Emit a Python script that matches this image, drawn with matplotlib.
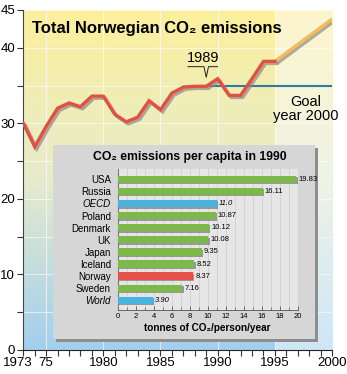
import numpy as np
import matplotlib
matplotlib.use("Agg")
import matplotlib.pyplot as plt
import matplotlib.patheffects as pe
import matplotlib.transforms as mtransforms
from matplotlib.patches import Rectangle
from matplotlib.ticker import MultipleLocator, FixedLocator

# total emissions (million tonnes CO2)
years = [1973, 1974, 1975, 1976, 1977, 1978, 1979, 1980, 1981, 1982, 1983,
         1984, 1985, 1986, 1987, 1988, 1989, 1990, 1991, 1992, 1993, 1994, 1995]
emissions = [30.0, 26.9, 29.6, 32.0, 32.7, 32.2, 33.6, 33.6, 31.2, 30.2, 30.8,
             33.0, 31.8, 34.0, 34.8, 34.9, 34.9, 35.9, 33.7, 33.7, 35.9, 38.2, 38.2]
proj_years = [1995, 2000]
proj_values = [38.2, 43.8]
goal = 35.0
goal_start = 1989

# inset: per capita emissions 1990
countries = ["USA", "Russia", "OECD", "Poland", "Denmark", "UK", "Japan",
             "Iceland", "Norway", "Sweden", "World"]
per_capita = [19.83, 16.11, 11.0, 10.87, 10.12, 10.08, 9.35, 8.52, 8.37, 7.16, 3.90]
per_capita_txt = ["19.83", "16.11", "11.0", "10.87", "10.12", "10.08", "9.35",
                  "8.52", "8.37", "7.16", "3.90"]
italic_rows = ["OECD", "World"]

plt.rcParams["font.family"] = ["Liberation Sans", "DejaVu Sans"]

fig = plt.figure(figsize=(3.47, 3.74), dpi=100)
W, H = 347.0, 374.0
ax = fig.add_axes([23.3 / W, 24 / H, 308.7 / W, 340 / H])
ax.set_xlim(years[0], proj_years[-1])
ax.set_ylim(0, 45)

# background gradients (yellow top -> blue bottom)
def gradient(top, mid, bot, n=200):
    t = np.linspace(0, 1, n)[:, None]
    top, mid, bot = [np.array(matplotlib.colors.to_rgb(c)) for c in (top, mid, bot)]
    g = np.where(t < 0.5, top + (mid - top) * (t / 0.5), mid + (bot - mid) * ((t - 0.5) / 0.5))
    return g[:, None, :]

ax.imshow(gradient("#fcf09c", "#e6ebcc", "#a2cfef"), extent=(years[0], years[-1], 0, 45),
          aspect="auto", zorder=0, interpolation="bilinear")
ax.imshow(gradient("#fdf6cc", "#eef3e6", "#cfe6f7"), extent=(proj_years[0], proj_years[-1], 0, 45),
          aspect="auto", zorder=0, interpolation="bilinear")

ax.xaxis.set_major_locator(FixedLocator([1973, 1975, 1980, 1985, 1990, 1995, 2000]))
ax.xaxis.set_minor_locator(MultipleLocator(1))
ax.set_xticklabels(["1973", "75", "1980", "1985", "1990", "1995", "2000"])
ax.yaxis.set_major_locator(FixedLocator([0, 10, 20, 30, 40, 45]))
ax.yaxis.set_minor_locator(MultipleLocator(5))
ax.tick_params(axis="both", which="both", direction="out", length=4, width=0.8, color="#333333")
ax.tick_params(axis="x", which="major", pad=1)
ax.tick_params(axis="y", which="major", pad=2)
for lab in ax.get_xticklabels() + ax.get_yticklabels():
    lab.set_fontsize(9.5)
# nudge the first year label left like the original
first = ax.get_xticklabels()[0]
first.set_transform(first.get_transform() + mtransforms.ScaledTranslation(-6 / 100, 0, fig.dpi_scale_trans))
for s in ["top", "right"]:
    ax.spines[s].set_visible(False)
ax.spines["left"].set_color("#444444")
ax.spines["bottom"].set_color("#222222")

ax.grid(True, which="minor", axis="y", color="white", lw=0.8, alpha=0.6, zorder=1)
ax.grid(True, which="major", axis="y", color="white", lw=0.8, alpha=0.6, zorder=1)
ax.grid(True, which="major", axis="x", color="white", lw=0.8, alpha=0.6, zorder=1)

# goal line
ax.hlines(goal, goal_start, proj_years[-1], color="#2b7ea1", lw=1.5, zorder=2)

shadow = [pe.SimpleLineShadow(offset=(1.5, -1.5), shadow_color="#8a8a8a", alpha=0.7), pe.Normal()]
ax.plot(proj_years, proj_values, color="#f6b960", lw=2.4, zorder=3, path_effects=shadow,
        solid_capstyle="butt")
ax.plot(years, emissions, color="#e4503f", lw=2.4, zorder=4, path_effects=shadow,
        solid_joinstyle="miter")

# 1989 marker
v89 = emissions[years.index(1989)]
ax.plot([1987.4, 1988.8, 1989.0, 1989.2, 1990.0],
        [v89 + 2.6, v89 + 2.6, v89 + 1.2, v89 + 2.6, v89 + 2.6], color="#222222", lw=0.7, zorder=5)
ax.text(1988.7, v89 + 2.8, "1989", fontsize=10.5, ha="center", va="bottom", zorder=5)

ax.text(1997.7, 33.7, "Goal\nyear 2000", fontsize=10.5, ha="center", va="top",
        linespacing=1.0, zorder=5)

ax.text(years[0] + 0.75, 42.6, "Total Norwegian CO\u2082 emissions", fontsize=12,
        fontweight="bold", ha="left", va="center", zorder=5)

# inset box with shadow
fig.patches.append(Rectangle((56 / W, 1 - 342 / H), 262 / W, 194 / H, transform=fig.transFigure,
                             facecolor="#8e8e8e", edgecolor="none", zorder=1))
fig.patches.append(Rectangle((53 / W, 1 - 339 / H), 262 / W, 194 / H, transform=fig.transFigure,
                             facecolor="#d6d6d6", edgecolor="none", zorder=1))
fig.text(190 / W, 1 - 157 / H, "CO\u2082 emissions per capita in 1990", fontsize=8.8,
         fontweight="bold", ha="center", va="center", zorder=3)

ax2 = fig.add_axes([117.7 / W, 64 / H, 180 / W, 141 / H], zorder=2)
ax2.set_facecolor("#e6e6e6")
ypos = np.arange(len(countries))[::-1]
bar_colors = []
for c in countries:
    if c in italic_rows:
        bar_colors.append("#47b3de")
    elif c == "Norway":
        bar_colors.append("#e6504a")
    else:
        bar_colors.append("#7cb84a")
bars = ax2.barh(ypos, per_capita, height=0.6, color=bar_colors, zorder=3)
for b in bars:
    b.set_path_effects([pe.SimplePatchShadow(offset=(1, -1), shadow_rgbFace="#777777", alpha=0.7),
                        pe.Normal()])
for y, v, t, c in zip(ypos, per_capita, per_capita_txt, countries):
    ax2.text(v + 0.25, y, t, fontsize=5.5, va="center", ha="left",
             style="italic" if c in italic_rows else "normal", zorder=4)

ax2.set_xlim(0, 20)
ax2.set_ylim(-0.8, len(countries) - 1 + 0.85)
ax2.set_yticks(ypos)
ax2.set_yticklabels(countries, fontsize=7)
for lab, c in zip(ax2.get_yticklabels(), countries):
    if c in italic_rows:
        lab.set_style("italic")
ax2.tick_params(axis="y", length=0, pad=5)
ax2.xaxis.set_major_locator(MultipleLocator(2))
ax2.xaxis.set_minor_locator(MultipleLocator(1))
ax2.tick_params(axis="x", which="both", direction="in", labelsize=5.5, pad=2, color="#555555")
ax2.tick_params(axis="x", which="major", length=3, width=0.6)
ax2.tick_params(axis="x", which="minor", length=2, width=0.5)
ax2.grid(True, which="both", axis="x", color="#cccccc", lw=0.5, zorder=0)
for s in ["top", "right"]:
    ax2.spines[s].set_visible(False)
ax2.spines["left"].set_color("#777777")
ax2.spines["bottom"].set_color("#555555")
ax2.spines["bottom"].set_linewidth(0.6)
ax2.set_xlabel("tonnes of CO\u2082/person/year", fontsize=7.2, fontweight="bold", labelpad=2)

fig.savefig("out.png", dpi=100)
